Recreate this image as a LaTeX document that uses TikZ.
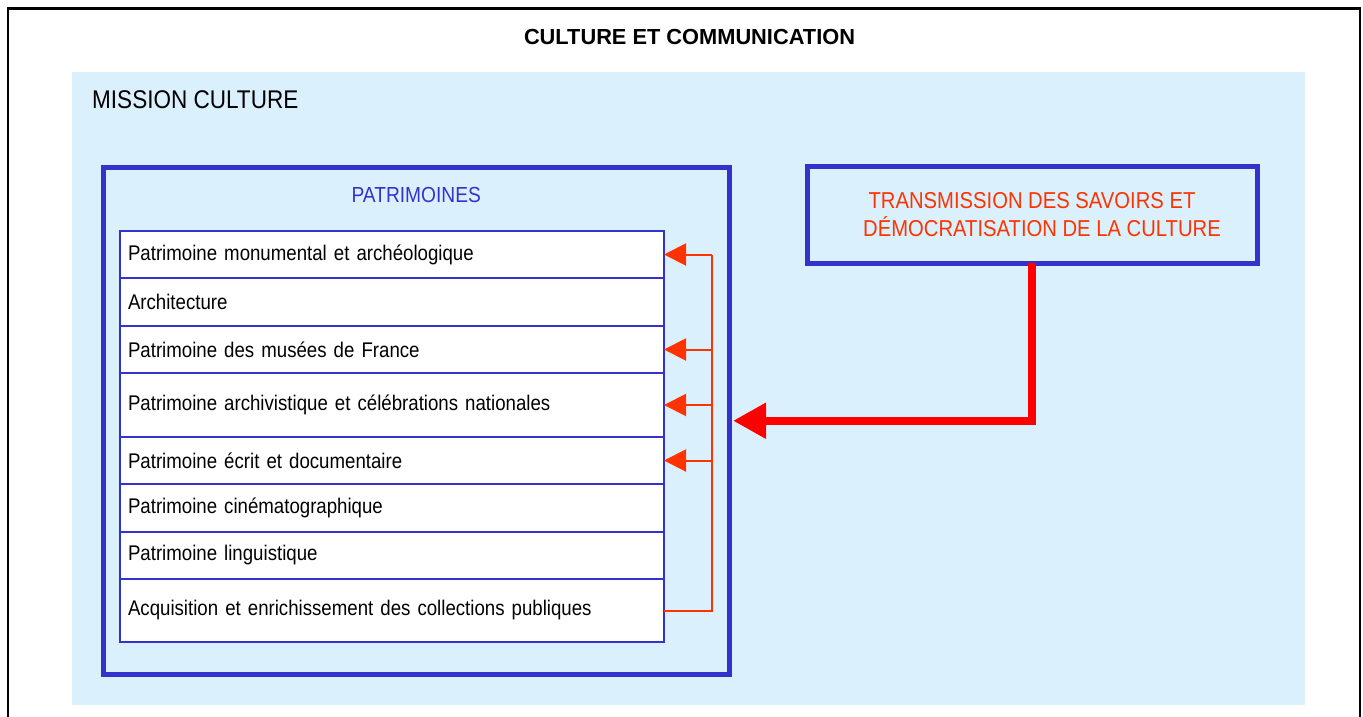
\documentclass[tikz,border=0pt]{standalone}
\usepackage{fontspec}
\setmainfont{Liberation Sans}
\newfontfamily\narrowfont{Liberation Sans}[FakeStretch=0.88]
\usetikzlibrary{arrows.meta,positioning,calc}
\definecolor{boxblue}{RGB}{51,51,204}
\definecolor{paleblue}{RGB}{219,240,253}
\definecolor{orangered}{RGB}{255,51,0}
\tikzset{row node/.style={rectangle,draw=boxblue,fill=white,line width=1.8pt,minimum width=544pt,text width=528pt,inner xsep=8pt,inner ysep=0pt,align=left,outer sep=0pt,font=\narrowfont\fontsize{21.2}{24}\selectfont},
big box/.style={rectangle,draw=boxblue,line width=5pt,outer sep=0pt},
}
\tikzstyle{feed}=[draw=orangered,line width=2pt]

\begin{document}
\begin{tikzpicture}[x=1pt,y=-1pt]
	\useasboundingbox (0,0) rectangle (1363,717);
	\clip (0,0) rectangle (1363,717);
	\draw[line width=2.5pt] (8,8.5) rectangle (1360,740);
	\fill[paleblue] (72,72) rectangle (1305,705);
	
	\node[font=\bfseries\fontsize{21.8}{24}\selectfont] (title) at (689.5,37) {CULTURE ET COMMUNICATION};
	\node[anchor=west,inner sep=0pt,font=\narrowfont\fontsize{25.6}{28}\selectfont] (mission) at (92,100) {MISSION CULTURE};
	
	\node[big box,minimum width=625.5pt,minimum height=506.5pt] (pat) at (416.25,420.75) {};
	\node[text=boxblue,font=\narrowfont\fontsize{21.8}{24}\selectfont] (pattitle) at ([yshift=-27.5pt]pat.north) {PATRIMOINES};
	
	\node[row node,minimum height=47pt,anchor=north west] (r1) at (120,231) {Patrimoine monumental et archéologique};
	\node[row node,minimum height=48pt,below=0pt of r1] (r2) {Architecture};
	\node[row node,minimum height=47pt,below=0pt of r2] (r3) {Patrimoine des musées de France};
	\node[row node,minimum height=64pt,below=0pt of r3] (r4) {Patrimoine archivistique et célébrations nationales};
	\node[row node,minimum height=47pt,below=0pt of r4] (r5) {Patrimoine écrit et documentaire};
	\node[row node,minimum height=48pt,below=0pt of r5] (r6) {Patrimoine cinématographique};
	\node[row node,minimum height=47pt,below=0pt of r6] (r7) {Patrimoine linguistique};
	\node[row node,minimum height=63pt,below=0pt of r7] (r8) {Acquisition et enrichissement des collections publiques};
	
	\node[big box,minimum width=450pt,minimum height=97pt,align=center,text=orangered,font=\narrowfont\fontsize{23}{28}\selectfont] (trans) at (1032,214.5) {TRANSMISSION DES SAVOIRS ET\\\hspace*{20pt}DÉMOCRATISATION DE LA CULTURE};
	
	\coordinate (bus) at ($(r1.east)+(47.5,0)$);
	\draw[feed] (r8.east) -| (bus);
	\foreach \r in {r1,r3,r4,r5}
		\draw[feed,-{Triangle[length=22pt,width=22pt]}] (bus |- \r.east) -- (\r.east);
	
	\draw[draw=red,line width=8pt,-{Triangle[length=33pt,width=34pt]}] (trans.south) |- ([xshift=4pt]pat.east);
\end{tikzpicture}
\end{document}
